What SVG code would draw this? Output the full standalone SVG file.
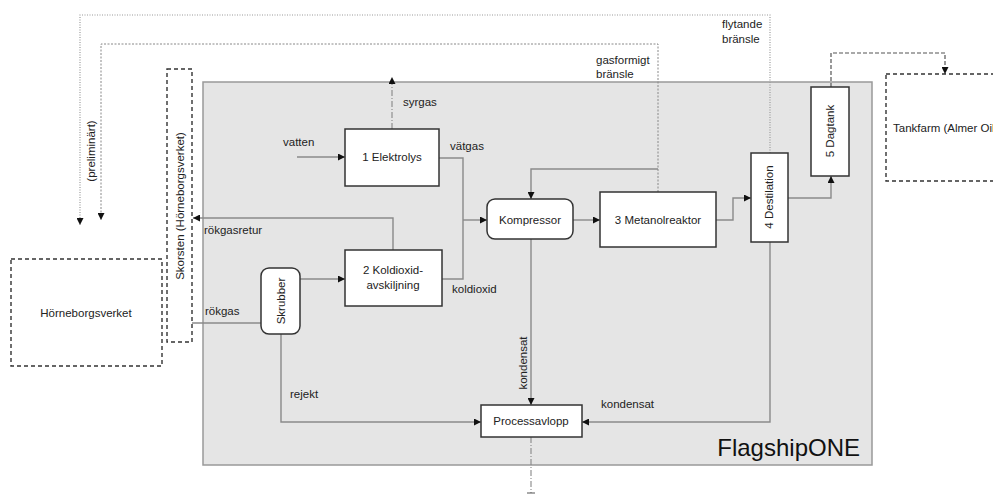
<svg xmlns="http://www.w3.org/2000/svg" width="993" height="495" viewBox="0 0 993 495">
<defs>
<marker id="arr" markerUnits="userSpaceOnUse" markerWidth="7" markerHeight="7" refX="7" refY="3.5" orient="auto">
<path d="M0,0 L7,3.5 L0,7 z" fill="#111"/>
</marker>
<style>
text{font-family:"Liberation Sans",Arial,sans-serif;font-size:11.5px;fill:#222}
.node{fill:#fff;stroke:#333;stroke-width:1.5}
.ext{fill:#fff;stroke:#333;stroke-width:1.4;stroke-dasharray:4,3}
.c{fill:none;stroke:#8a8a8a;stroke-width:1.4}
.dot{fill:none;stroke:#999;stroke-width:1.2;stroke-dasharray:1,1.5}
.dot2{fill:none;stroke:#888;stroke-width:1;stroke-dasharray:2,1.5}
.dd{fill:none;stroke:#888;stroke-width:1.1;stroke-dasharray:6,2,1,2}
.dash{fill:none;stroke:#555;stroke-width:1.2;stroke-dasharray:4,2}
.m{text-anchor:middle}
</style>
</defs>
<rect width="993" height="495" fill="#fff"/>
<g id="flagshipone">
<rect x="203" y="82" width="669" height="383" fill="#e5e5e5" stroke="#999" stroke-width="1.5"/>
<text x="860" y="456" style="font-size:24px;text-anchor:end;fill:#111">FlagshipONE</text>
</g>
<g id="connectors">
<path class="dot" d="M770,153 V15 H80 V225" marker-end="url(#arr)"/>
<path class="dot2" d="M658,192 V44 H101 V220" marker-end="url(#arr)"/>
<path class="c" d="M658,169 H531 V199" marker-end="url(#arr)"/>
<path class="c" d="M297,157 H345" marker-end="url(#arr)"/>
<path class="dd" d="M392,129 V77" marker-end="url(#arr)"/>
<path class="c" d="M439,158 H463 V279 H442"/>
<path class="c" d="M463,220 H487" marker-end="url(#arr)"/>
<path class="c" d="M393,250 V218 H193" marker-end="url(#arr)"/>
<path class="c" d="M300,279 H345" marker-end="url(#arr)"/>
<path class="c" d="M192,323 H261"/>
<path class="c" d="M281,334 V422 H481" marker-end="url(#arr)"/>
<path class="c" d="M531,239 V405" marker-end="url(#arr)"/>
<path class="c" d="M573,220 H600" marker-end="url(#arr)"/>
<path class="c" d="M716,220 H733 V198 H751" marker-end="url(#arr)"/>
<path class="c" d="M788,198 H831 V176" marker-end="url(#arr)"/>
<path class="c" d="M770,242 V422 H582" marker-end="url(#arr)"/>
<path class="dd" d="M531,437 V493"/>
<path d="M527,493 H535" stroke="#555" stroke-width="1"/>
<path class="dash" d="M831,87 V53 H945 V74" marker-end="url(#arr)"/>
<text x="283" y="146">vatten</text>
<text x="403" y="106">syrgas</text>
<text x="450" y="150">vätgas</text>
<text x="452" y="293">koldioxid</text>
<text x="204" y="234">rökgasretur</text>
<text x="205" y="315">rökgas</text>
<text x="290" y="398">rejekt</text>
<text x="601" y="408">kondensat</text>
<text transform="translate(527,363) rotate(-90)" class="m">kondensat</text>
<text x="596" y="64">gasformigt</text>
<text x="596" y="78">bränsle</text>
<text x="722" y="28">flytande</text>
<text x="722" y="43">bränsle</text>
<text transform="translate(95,151) rotate(-90)" class="m">(preliminärt)</text>
</g>
<g id="skorsten">
<rect class="ext" x="167" y="69" width="25" height="273"/>
<text transform="translate(184,206) rotate(-90)" class="m">Skorsten (Hörneborgsverket)</text>
</g>
<g id="horneborgsverket">
<rect class="ext" x="11" y="259" width="151" height="107"/>
<text x="86" y="317" class="m">Hörneborgsverket</text>
</g>
<g id="tankfarm">
<rect class="ext" x="886" y="74" width="130" height="107"/>
<text x="893" y="132">Tankfarm (Almer Oil</text>
</g>
<g id="elektrolys">
<rect class="node" x="345" y="129" width="94" height="57"/>
<text x="392" y="161" class="m">1 Elektrolys</text>
</g>
<g id="koldioxid">
<rect class="node" x="345" y="250" width="97" height="56"/>
<text x="393" y="274" class="m">2 Koldioxid-</text>
<text x="393" y="289" class="m">avskiljning</text>
</g>
<g id="skrubber">
<rect class="node" x="261" y="268" width="39" height="66" rx="8"/>
<text transform="translate(285,301) rotate(-90)" class="m">Skrubber</text>
</g>
<g id="kompressor">
<rect class="node" x="487" y="199" width="86" height="40" rx="8"/>
<text x="530" y="224" class="m">Kompressor</text>
</g>
<g id="metanolreaktor">
<rect class="node" x="600" y="192" width="116" height="55"/>
<text x="658" y="224" class="m">3 Metanolreaktor</text>
</g>
<g id="destillation">
<rect class="node" x="751" y="153" width="37" height="89"/>
<text transform="translate(773,197) rotate(-90)" class="m">4 Destilation</text>
</g>
<g id="dagtank">
<rect class="node" x="811" y="87" width="38" height="89"/>
<text transform="translate(834,131) rotate(-90)" class="m">5 Dagtank</text>
</g>
<g id="processavlopp">
<rect class="node" x="481" y="405" width="101" height="32"/>
<text x="531" y="425" class="m">Processavlopp</text>
</g>
</svg>
